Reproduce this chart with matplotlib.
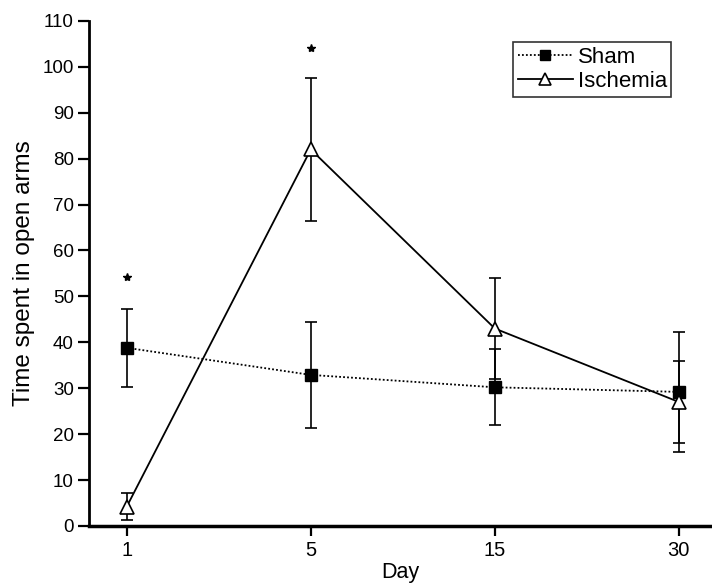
import matplotlib.pyplot as plt
from matplotlib.lines import Line2D
import numpy as np

plt.rcParams['font.family'] = ['Liberation Sans', 'DejaVu Sans']

days = ["1", "5", "15", "30"]
sham = [38.8, 32.9, 30.2, 29.2]
sham_err = [8.5, 11.6, 8.3, 13.0]
isch = [4.2, 82.0, 43.0, 27.0]
isch_err = [2.9, 15.6, 11.0, 9.0]
# significance marks (day index, height)
star_x = [0, 1]
star_y = [54.2, 104.2]

x = np.arange(len(days))
dotted = (0, (1, 1.2))

fig = plt.figure(figsize=(7.12, 5.88), dpi=100)
ax = fig.add_axes([0.125, 0.1055, 0.875, 0.859])

ax.errorbar(x, sham, yerr=sham_err, color='black', linestyle=dotted, lw=1.3,
            marker='s', markersize=8, markerfacecolor='black', markeredgecolor='black',
            ecolor='black', elinewidth=1.2, capsize=4, capthick=1.2, zorder=3)
ax.errorbar(x, isch, yerr=isch_err, color='black', linestyle='-', lw=1.3,
            marker='^', markersize=10, markerfacecolor='white', markeredgecolor='black',
            markeredgewidth=1.2, ecolor='black', elinewidth=1.2, capsize=4, capthick=1.2,
            zorder=4)
ax.plot(star_x, star_y, linestyle='none', marker='*', markersize=6, color='black')

ax.set_xlim(-0.205, 3.18)
ax.set_ylim(0, 110)
ax.set_xticks(x)
ax.set_xticklabels(days)
ax.set_yticks(np.arange(0, 111, 10))

for s in ['top', 'right']:
    ax.spines[s].set_visible(False)
ax.spines['left'].set_linewidth(2)
ax.spines['bottom'].set_linewidth(2.5)
ax.tick_params(axis='y', length=8, width=1.6, labelsize=13.5, pad=3)
ax.tick_params(axis='x', length=7, width=1.6, labelsize=14.5, pad=4)

ax.set_xlabel("Day", fontsize=15.5, labelpad=1)
ax.set_ylabel("Time spent in open arms", fontsize=17.5, labelpad=5)

# legend without the error bar caps
handles = [
    Line2D([], [], color='black', linestyle=dotted, lw=1.3, marker='s', markersize=7,
           markerfacecolor='black', markeredgecolor='black'),
    Line2D([], [], color='black', linestyle='-', lw=1.3, marker='^', markersize=8,
           markerfacecolor='white', markeredgecolor='black', markeredgewidth=1.2),
]
leg = ax.legend(handles, ['Sham', 'Ischemia'], loc='upper right',
                bbox_to_anchor=(0.943, 0.928), bbox_transform=fig.transFigure,
                fontsize=16, frameon=True, fancybox=False, handlelength=2.5,
                handletextpad=0.2, borderpad=0.2, labelspacing=0.15, borderaxespad=0)
leg.get_frame().set_edgecolor('black')
leg.get_frame().set_linewidth(1.2)

fig.savefig('out.png', dpi=100)
